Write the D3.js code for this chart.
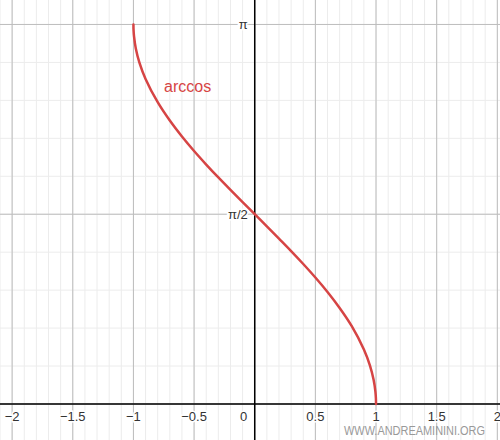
<!DOCTYPE html>
<html>
<head>
<meta charset="utf-8">
<script src="https://cdn.jsdelivr.net/npm/d3@7"></script>
<style>
  body { margin: 0; background: #fff; }
  text { font-family: "Liberation Sans", Arial, sans-serif; }
</style>
</head>
<body>
<svg id="chart" width="500" height="440"></svg>
<script>
// points (x, y)
const curveX = [-1, -0.999, -0.995, -0.98, -0.95, -0.9, -0.8, -0.7, -0.6, -0.5, -0.4, -0.3, -0.2, -0.1,
  0, 0.1, 0.2, 0.3, 0.4, 0.5, 0.6, 0.7, 0.8, 0.9, 0.95, 0.98, 0.995, 0.999, 1];
const curveY = [3.142, 3.097, 3.042, 2.941, 2.824, 2.691, 2.498, 2.346, 2.214, 2.094, 1.982, 1.875, 1.772, 1.671,
  1.571, 1.471, 1.369, 1.266, 1.159, 1.047, 0.927, 0.795, 0.644, 0.451, 0.318, 0.200, 0.100, 0.045, 0];

// tick labels
const xTicks = [-2, -1.5, -1, -0.5, 0, 0.5, 1, 1.5, 2];
const yTicks = [Math.PI / 2, Math.PI];
const yTickLabels = ["π/2", "π"];

const width = 500, height = 440;
const svg = d3.select("#chart");

const x = d3.scaleLinear().domain([-2.1, 2.022]).range([0, width]);
const y = d3.scaleLinear().domain([-0.298, 3.344]).range([height, 0]);

// minor grid
const minorX = d3.range(-21, 21).map(i => i / 10);
const minorY = d3.range(0, 11).map(i => i * Math.PI / 10);
const grid = svg.append("g");
grid.selectAll(".mx").data(minorX).enter().append("line")
  .attr("x1", d => x(d)).attr("x2", d => x(d))
  .attr("y1", 0).attr("y2", height)
  .attr("stroke", "#ececec").attr("stroke-width", 1);
grid.selectAll(".my").data(minorY).enter().append("line")
  .attr("x1", 0).attr("x2", width)
  .attr("y1", d => y(d)).attr("y2", d => y(d))
  .attr("stroke", "#ececec").attr("stroke-width", 1);

// major grid
const majorX = d3.range(-4, 5).map(i => i / 2);
const majorY = [0, Math.PI / 2, Math.PI];
grid.selectAll(".Mx").data(majorX).enter().append("line")
  .attr("x1", d => x(d)).attr("x2", d => x(d))
  .attr("y1", 0).attr("y2", height)
  .attr("stroke", "#bdbdbd").attr("stroke-width", 1);
grid.selectAll(".My").data(majorY).enter().append("line")
  .attr("x1", 0).attr("x2", width)
  .attr("y1", d => y(d)).attr("y2", d => y(d))
  .attr("stroke", "#bdbdbd").attr("stroke-width", 1);

// axes
svg.append("line")
  .attr("x1", 0).attr("x2", width)
  .attr("y1", y(0)).attr("y2", y(0))
  .attr("stroke", "#000").attr("stroke-width", 1.5);
svg.append("line")
  .attr("x1", x(0)).attr("x2", x(0))
  .attr("y1", 0).attr("y2", height)
  .attr("stroke", "#000").attr("stroke-width", 1.5);

// tick labels
const fmt = d => (d < 0 ? "\u2212" : "") + Math.abs(d);
svg.selectAll(".xt").data(xTicks).enter().append("text")
  .attr("x", d => d === 0 ? x(0) - 11 : x(d))
  .attr("y", y(0) + 17)
  .attr("text-anchor", "middle")
  .attr("font-size", 13)
  .attr("fill", "#333")
  .attr("stroke", "#fff").attr("stroke-width", 3)
  .attr("paint-order", "stroke")
  .text(fmt);

svg.selectAll(".yt").data(yTicks).enter().append("text")
  .attr("x", x(0) - 7)
  .attr("y", d => y(d) + 5)
  .attr("text-anchor", "end")
  .attr("font-size", 13)
  .attr("fill", "#333")
  .attr("stroke", "#fff").attr("stroke-width", 3)
  .attr("paint-order", "stroke")
  .text((d, i) => yTickLabels[i]);

// the curve
const pts = curveX.map((v, i) => [v, curveY[i]]);
const line = d3.line()
  .x(d => x(d[0]))
  .y(d => y(d[1]))
  .curve(d3.curveCatmullRom.alpha(0.5));
svg.append("path")
  .datum(pts)
  .attr("d", line)
  .attr("fill", "none")
  .attr("stroke", "#d64444")
  .attr("stroke-width", 2.5)
  .attr("stroke-linecap", "round");

svg.append("text")
  .attr("x", 164).attr("y", 92)
  .attr("font-size", 16)
  .attr("fill", "#d64444")
  .text("arccos");

// watermark
svg.append("text")
  .attr("x", 344).attr("y", 435)
  .attr("font-size", 12)
  .attr("fill", "#999")
  .attr("textLength", 141)
  .attr("lengthAdjust", "spacingAndGlyphs")
  .text("WWW.ANDREAMININI.ORG");
</script>
</body>
</html>
